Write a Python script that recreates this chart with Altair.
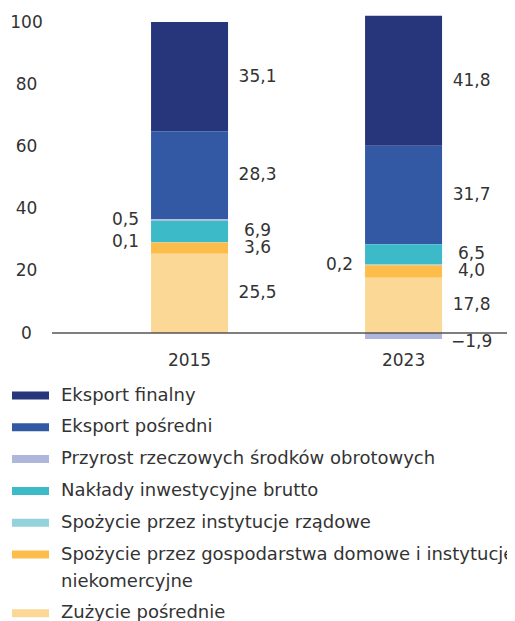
import altair as alt
import pandas as pd

years = ["2015", "2023"]
categories = [
    "Eksport finalny",
    "Eksport pośredni",
    "Przyrost rzeczowych środków obrotowych",
    "Nakłady inwestycyjne brutto",
    "Spożycie przez instytucje rządowe",
    "Spożycie przez gospodarstwa domowe i instytucje niekomercyjne",
    "Zużycie pośrednie",
]
values_2015 = [35.1, 28.3, 0.5, 6.9, 0.1, 3.6, 25.5]
values_2023 = [41.8, 31.7, -1.9, 6.5, 0.2, 4.0, 17.8]
colors = ["#27357b", "#3358a4", "#aeb6dc", "#3dbac8", "#93d2db", "#fdbd4a", "#fbd896"]
y_ticks = [0, 20, 40, 60, 80, 100]

rows = []
for year, vals in zip(years, [values_2015, values_2023]):
    for i, (cat, v) in enumerate(zip(categories, vals)):
        rows.append({"year": year, "cat": cat, "value": v, "order": len(categories) - i})
df = pd.DataFrame(rows)

FONT = "DejaVu Sans"
TXT = "#333333"

xscale = alt.Scale(domain=years, paddingInner=0.640, paddingOuter=0.383, align=0.604)
yscale = alt.Scale(domain=[0, 100], nice=False, zero=False)

base = alt.Chart(df)

bars = base.mark_bar(size=77).encode(
    x=alt.X("year:N", scale=xscale, title=None,
            axis=alt.Axis(labelAngle=0, domain=False, ticks=False, tickSize=0,
                          labelPadding=19, labelFont=FONT, labelFontSize=17,
                          labelColor=TXT)),
    y=alt.Y("value:Q", scale=yscale, title=None, stack="zero",
            axis=alt.Axis(values=y_ticks, grid=False, domain=False, ticks=False,
                          tickSize=0, labelAlign="center", labelPadding=26,
                          labelFont=FONT, labelFontSize=17, labelColor=TXT)),
    color=alt.Color("cat:N", scale=alt.Scale(domain=categories, range=colors),
                    title=None,
                    legend=alt.Legend(
                        orient="none", legendX=-40, legendY=355, direction="vertical",
                        symbolType="M-1,-0.216H1V0.216H-1Z", symbolSize=1369,
                        symbolStrokeWidth=0, labelFont=FONT, labelFontSize=18,
                        labelColor=TXT, labelOffset=12, rowPadding=3.8,
                        labelLimit=1000, padding=0,
                        labelExpr="datum.label == 'Spożycie przez gospodarstwa domowe i instytucje niekomercyjne' ? ['Spożycie przez gospodarstwa domowe i instytucje', 'niekomercyjne'] : datum.label",
                    )),
    order=alt.Order("order:Q"),
)

lab = base.transform_stack(
    stack="value", groupby=["year"], as_=["y0", "y1"],
    sort=[alt.SortField("order", order="ascending")],
).transform_calculate(
    mid="(datum.y0 + datum.y1) / 2",
    txt="replace(format(datum.value, '.1f'), '.', ',')",
)

text_enc = dict(
    x=alt.X("year:N", scale=xscale),
    y=alt.Y("mid:Q", scale=yscale),
    text="txt:N",
)
tstyle = dict(font=FONT, fontSize=17, color=TXT, align="center", baseline="middle")

left_labels = lab.transform_filter("abs(datum.value) < 1").mark_text(dx=-64, **tstyle).encode(**text_enc)
right_labels = lab.transform_filter("datum.value >= 1").mark_text(dx=68, **tstyle).encode(**text_enc)
neg_labels = lab.transform_filter("datum.value <= -1").mark_text(dx=68, dy=6, **tstyle).encode(**text_enc)

zero = alt.Chart(pd.DataFrame({"z": [0]})).mark_rule(color="#555555", strokeWidth=1.5).encode(
    y=alt.Y("z:Q", scale=yscale)
)

chart = alt.layer(bars, zero, left_labels, right_labels, neg_labels).properties(
    width=455, height=311,
    autosize=alt.AutoSizeParams(type="none"),
    padding={"left": 44, "top": 14, "right": 0, "bottom": 288},
).configure(style={"guide-label": {"lineHeight": 27}}).configure_view(stroke=None)

chart.save("out.html", embed_options={"renderer": "svg", "actions": False})
